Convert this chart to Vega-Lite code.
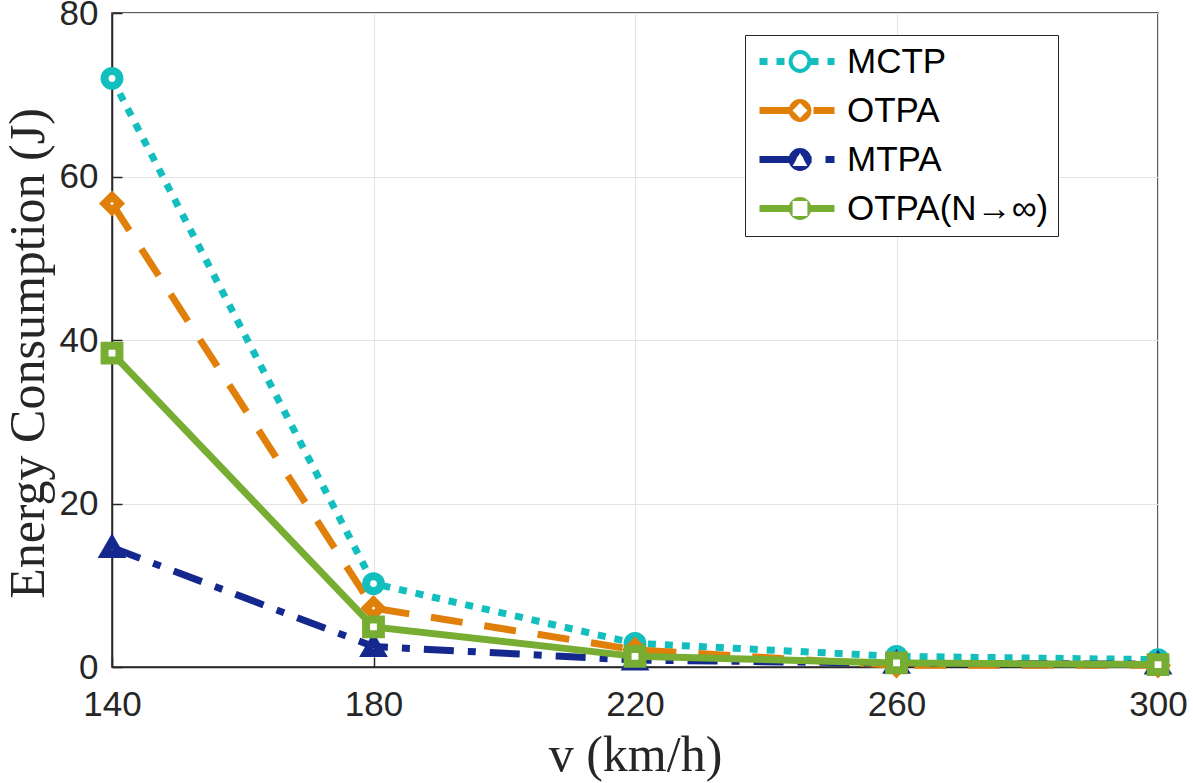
{
  "$schema": "https://vega.github.io/schema/vega-lite/v6.json",
  "width": 1046,
  "height": 654,
  "autosize": {"type": "none"},
  "padding": {"left": 112, "top": 13, "right": 35, "bottom": 116},
  "background": "white",
  "config": {
    "view": {"stroke": "#262626", "strokeWidth": 1.5},
    "axis": {
      "labelFont": "Liberation Sans",
      "labelFontSize": 35,
      "labelColor": "#262626",
      "titleFont": "Liberation Serif",
      "titleFontSize": 50,
      "titleFontWeight": "normal",
      "titleColor": "#262626",
      "gridColor": "#e3e3e3",
      "gridWidth": 1,
      "domainColor": "#262626",
      "domainWidth": 1.5,
      "tickColor": "#262626",
      "tickWidth": 1.5,
      "tickSize": -10,
      "labelFlush": false
    }
  },
  "data": {
    "values": [
      {"v": 140, "E": 72.0, "series": "MCTP"},
      {"v": 180, "E": 10.2, "series": "MCTP"},
      {"v": 220, "E": 2.9, "series": "MCTP"},
      {"v": 260, "E": 1.3, "series": "MCTP"},
      {"v": 300, "E": 0.9, "series": "MCTP"},
      {"v": 140, "E": 56.7, "series": "OTPA"},
      {"v": 180, "E": 7.2, "series": "OTPA"},
      {"v": 220, "E": 2.1, "series": "OTPA"},
      {"v": 260, "E": 0.2, "series": "OTPA"},
      {"v": 300, "E": 0.2, "series": "OTPA"},
      {"v": 140, "E": 14.6, "series": "MTPA"},
      {"v": 180, "E": 2.5, "series": "MTPA"},
      {"v": 220, "E": 0.85, "series": "MTPA"},
      {"v": 260, "E": 0.45, "series": "MTPA"},
      {"v": 300, "E": 0.35, "series": "MTPA"},
      {"v": 140, "E": 38.4, "series": "OTPA(N→∞)"},
      {"v": 180, "E": 4.9, "series": "OTPA(N→∞)"},
      {"v": 220, "E": 1.3, "series": "OTPA(N→∞)"},
      {"v": 260, "E": 0.5, "series": "OTPA(N→∞)"},
      {"v": 300, "E": 0.3, "series": "OTPA(N→∞)"}
    ]
  },
  "encoding": {
    "x": {
      "field": "v", "type": "quantitative",
      "scale": {"domain": [140, 300], "nice": false, "zero": false},
      "axis": {"values": [140, 180, 220, 260, 300], "title": "v (km/h)", "grid": true,
               "labelPadding": 30, "titleBaseline": "alphabetic", "titleY": 103}
    },
    "y": {
      "field": "E", "type": "quantitative",
      "scale": {"domain": [0, 80], "nice": false},
      "axis": {"values": [0, 20, 40, 60, 80], "title": "Energy Consumption (J)", "grid": true,
               "labelPadding": 24, "titleX": -84, "titleY": 340, "titleAngle": -90, "titleBaseline": "middle", "titleAlign": "center"}
    }
  },
  "layer": [
    {
      "mark": {"type": "line", "strokeWidth": 7, "strokeCap": "butt"},
      "encoding": {
        "stroke": {
          "field": "series", "type": "nominal",
          "scale": {"domain": ["MCTP", "OTPA", "MTPA", "OTPA(N→∞)"], "range": ["#12BEBE", "#E17F0B", "#14288E", "#76AD32"]},
          "legend": {
            "orient": "none", "legendX": 633, "legendY": 22, "title": null,
            "symbolType": "stroke", "symbolSize": 5625, "symbolStrokeWidth": 7,
            "clipHeight": 35, "rowPadding": 13, "padding": 9, "symbolOffset": 2, "labelOffset": 9,
            "labelFont": "Liberation Sans", "labelFontSize": 35, "labelColor": "black", "labelLimit": 500,
            "fillColor": "white", "strokeColor": "#262626", "cornerRadius": 0
          }
        },
        "strokeDash": {
          "field": "series", "type": "nominal",
          "scale": {"domain": ["MCTP", "OTPA", "MTPA", "OTPA(N→∞)"], "range": [[8, 9], [32, 22], [30, 14, 8, 14], [1000, 0]]},
          "legend": {
            "orient": "none", "legendX": 633, "legendY": 22, "title": null,
            "symbolType": "stroke", "symbolSize": 5625, "symbolStrokeWidth": 7,
            "clipHeight": 35, "rowPadding": 13, "padding": 9, "symbolOffset": 2, "labelOffset": 9,
            "labelFont": "Liberation Sans", "labelFontSize": 35, "labelColor": "black", "labelLimit": 500,
            "fillColor": "white", "strokeColor": "#262626", "cornerRadius": 0
          }
        }
      }
    },
    {
      "mark": {"type": "point", "filled": false, "fill": "white", "strokeWidth": 8, "opacity": 1},
      "encoding": {
        "color": {
          "field": "series", "type": "nominal",
          "sort": ["MCTP", "OTPA", "MTPA", "OTPA(N→∞)"],
          "scale": {"range": ["#12BEBE", "#E17F0B", "#14288E", "#76AD32"]},
          "legend": {
            "orient": "none", "legendX": 633, "legendY": 22, "title": null,
            "symbolSize": 220, "symbolStrokeWidth": 8, "symbolFillColor": "white",
            "clipHeight": 35, "rowPadding": 13, "padding": 9, "symbolOffset": 28.5,
            "labelFontSize": 35, "labelExpr": "''",
            "encode": {"symbols": {"update": {"strokeWidth": {"value": 8}}}}
          }
        },
        "shape": {
          "field": "series", "type": "nominal",
          "sort": ["MCTP", "OTPA", "MTPA", "OTPA(N→∞)"],
          "scale": {"range": ["circle", "diamond", "triangle-up", "square"]},
          "legend": {
            "orient": "none", "legendX": 633, "legendY": 22, "title": null,
            "symbolSize": 220, "symbolStrokeWidth": 8, "symbolFillColor": "white",
            "clipHeight": 35, "rowPadding": 13, "padding": 9, "symbolOffset": 28.5,
            "labelFontSize": 35, "labelExpr": "''",
            "encode": {"symbols": {"update": {"strokeWidth": {"value": 8}}}}
          }
        },
        "size": {"value": 220}
      }
    }
  ]
}
